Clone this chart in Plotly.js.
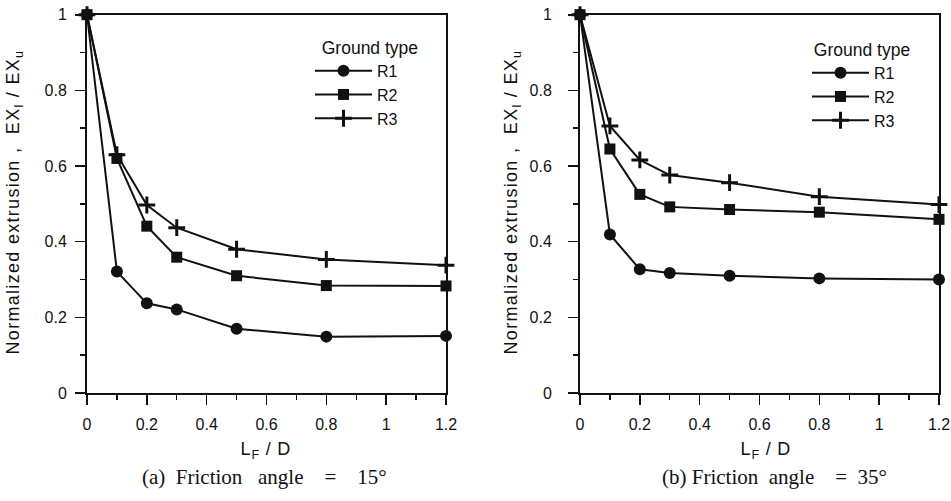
<!DOCTYPE html>
<html>
<head>
<meta charset="utf-8">
<script src="https://cdn.plot.ly/plotly-3.0.1.min.js"></script>
<style>
html,body{margin:0;padding:0;background:#fff;}
#chart{width:951px;height:501px;}
#chart g.annotation[data-index="0"] text,
#chart g.annotation[data-index="1"] text{letter-spacing:1.3px;}
#chart g.annotation[data-index="2"] text,
#chart g.annotation[data-index="3"] text{letter-spacing:0.8px;}
</style>
</head>
<body>
<div id="chart"></div>
<script>
// Data
var xLF = [0, 0.1, 0.2, 0.3, 0.5, 0.8, 1.2];
var seriesNames = ["R1", "R2", "R3"];
// (a) Friction angle = 15°
var a_R1 = [1, 0.321, 0.237, 0.221, 0.170, 0.149, 0.151];
var a_R2 = [1, 0.620, 0.441, 0.359, 0.310, 0.284, 0.283];
var a_R3 = [1, 0.630, 0.497, 0.437, 0.380, 0.353, 0.338];
// (b) Friction angle = 35°
var b_R1 = [1, 0.419, 0.327, 0.317, 0.310, 0.303, 0.300];
var b_R2 = [1, 0.645, 0.525, 0.492, 0.485, 0.478, 0.459];
var b_R3 = [1, 0.706, 0.616, 0.576, 0.556, 0.519, 0.498];
var xTickVals = [0, 0.2, 0.4, 0.6, 0.8, 1, 1.2];
var xTickText = ["0", "0.2", "0.4", "0.6", "0.8", "1", "1.2"];
var yTickVals = [0, 0.2, 0.4, 0.6, 0.8, 1];
var yTickText = ["0", "0.2", "0.4", "0.6", "0.8", "1"];
var captions = ["(a)  Friction   angle    =    15°", "(b) Friction  angle    =  35°"];
var legendTitle = "Ground type";

var W = 951, H = 501;
function px(v){ return v / W; }
function py(v){ return 1 - v / H; }

var ink = "#111";
var markers = [
  {symbol: "circle", size: 12, color: ink},
  {symbol: "square", size: 11, color: ink},
  {symbol: "cross-thin", size: 12, color: ink, line: {color: ink, width: 3}}
];

function mk(y, i, xa, ya, leg){
  return {
    type: "scatter", mode: "lines+markers",
    x: xLF, y: y, name: seriesNames[i],
    xaxis: xa, yaxis: ya, legend: leg,
    line: {color: ink, width: 2},
    marker: markers[i],
    cliponaxis: false,
    hoverinfo: "x+y"
  };
}

var data = [
  mk(a_R1, 0, "x", "y", "legend"),
  mk(a_R2, 1, "x", "y", "legend"),
  mk(a_R3, 2, "x", "y", "legend"),
  mk(b_R1, 0, "x2", "y2", "legend2"),
  mk(b_R2, 1, "x2", "y2", "legend2"),
  mk(b_R3, 2, "x2", "y2", "legend2")
];

var tickFont = {family: "Liberation Sans, Arial, sans-serif", size: 16, color: ink};

function xAxis(dom, anchor){
  return {
    domain: dom, anchor: anchor, range: [0, 1.2], fixedrange: true,
    tickvals: xTickVals, ticktext: xTickText,
    ticks: "outside", ticklen: 10, tickwidth: 1.6, tickcolor: ink,
    minor: {dtick: 0.1, tick0: 0, ticks: "outside", ticklen: 5, tickwidth: 1.4, tickcolor: ink},
    showline: true, linecolor: ink, linewidth: 2, mirror: true,
    showgrid: false, zeroline: false,
    tickfont: tickFont, ticklabelstandoff: 6
  };
}
function yAxis(anchor, standoff){
  return {
    domain: [108 / H, 1 - 14.7 / H], anchor: anchor, range: [0, 1], fixedrange: true,
    tickvals: yTickVals, ticktext: yTickText,
    ticks: "outside", ticklen: 10, tickwidth: 1.6, tickcolor: ink,
    minor: {dtick: 0.1, tick0: 0, ticks: "outside", ticklen: 5, tickwidth: 1.4, tickcolor: ink},
    showline: true, linecolor: ink, linewidth: 2, mirror: true,
    showgrid: false, zeroline: false,
    tickfont: tickFont, ticklabelstandoff: standoff
  };
}

var titleFont = {family: "Liberation Sans, Arial, sans-serif", size: 18, color: ink};
var capFont = {family: "Liberation Serif, Times New Roman, serif", size: 21, color: ink};
var yTitle = "Normalized extrusion ,  EX<sub>l</sub> / EX<sub>u</sub>";
var xTitle = "L<sub>F</sub> / D";

var annotations = [
  {xref: "paper", yref: "paper", x: px(14), y: py(202), text: yTitle, textangle: -90, showarrow: false, font: titleFont, xanchor: "center", yanchor: "middle"},
  {xref: "paper", yref: "paper", x: px(512), y: py(202), text: yTitle, textangle: -90, showarrow: false, font: titleFont, xanchor: "center", yanchor: "middle"},
  {xref: "paper", yref: "paper", x: px(266), y: py(450), text: xTitle, showarrow: false, font: titleFont, xanchor: "center", yanchor: "middle"},
  {xref: "paper", yref: "paper", x: px(766), y: py(450), text: xTitle, showarrow: false, font: titleFont, xanchor: "center", yanchor: "middle"},
  {xref: "paper", yref: "paper", x: px(264), y: py(477), text: captions[0], showarrow: false, font: capFont, xanchor: "center", yanchor: "middle"},
  {xref: "paper", yref: "paper", x: px(774), y: py(477), text: captions[1], showarrow: false, font: capFont, xanchor: "center", yanchor: "middle"}
];

var legFont = {family: "Liberation Sans, Arial, sans-serif", size: 16, color: ink};
var legTitleFont = {family: "Liberation Sans, Arial, sans-serif", size: 17.5, color: ink};
function legend(xp, yp, pre){
  return {
    x: px(xp), y: py(yp), xanchor: "left", yanchor: "top",
    bgcolor: "rgba(0,0,0,0)", borderwidth: 0,
    font: legFont, itemwidth: 57, tracegroupgap: 0,
    title: {text: pre + legendTitle, font: legTitleFont, side: "top"},
    itemclick: false, itemdoubleclick: false
  };
}

var layout = {
  width: W, height: H,
  margin: {l: 0, r: 0, t: 0, b: 0, pad: 0},
  paper_bgcolor: "#fff", plot_bgcolor: "#fff",
  showlegend: true,
  xaxis: xAxis([87 / W, 446 / W], "y"),
  yaxis: yAxis("x", 5),
  xaxis2: xAxis([580 / W, 939 / W], "y2"),
  yaxis2: yAxis("x2", 13),
  legend: legend(310, 31, "  "),
  legend2: legend(807, 33, " "),
  annotations: annotations
};

Plotly.newPlot("chart", data, layout, {displayModeBar: false, staticPlot: true});
</script>
</body>
</html>
